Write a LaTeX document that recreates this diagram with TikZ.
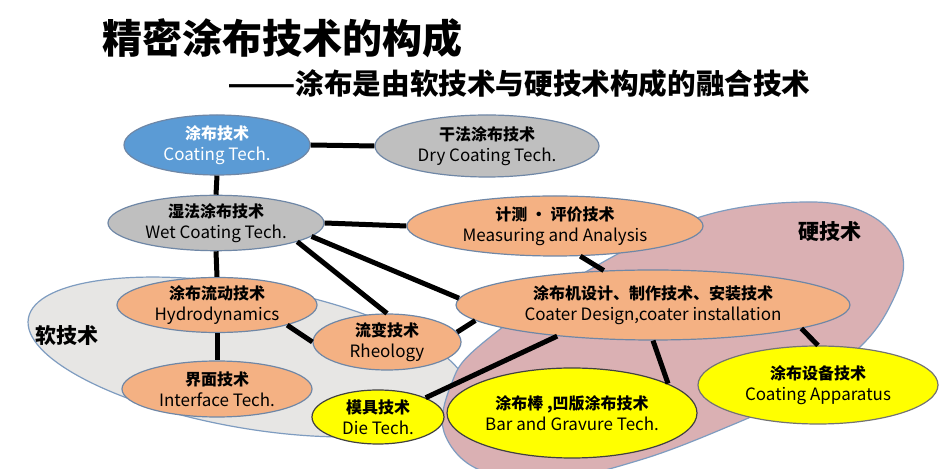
\documentclass[tikz,border=0pt]{standalone}
\usepackage{fontspec}
\setmainfont{Noto Sans CJK SC}
\usetikzlibrary{shapes.geometric}
\definecolor{coatblue}{HTML}{5B9BD5}
\definecolor{techgray}{HTML}{BFBFBF}
\definecolor{techorange}{HTML}{F4B183}
\definecolor{techyellow}{HTML}{FFFF00}
\definecolor{softfill}{HTML}{E7E6E4}
\definecolor{hardfill}{HTML}{DAB0B3}
\definecolor{zoneline}{HTML}{7E9CC0}
\definecolor{techline}{HTML}{6F87A6}
\newcommand{\twoline}[2]{{\bfseries #1}\\{\fontsize{8.5}{10.5}\selectfont #2}}

\begin{document}
\begin{tikzpicture}[x=0.5pt,y=-0.5pt,
        tech/.style={ellipse,draw=techline,line width=0.6pt,inner sep=0pt,align=center,
            font=\fontsize{8}{10.5}\selectfont},
        die/.style={tech,fill=techyellow,draw=black!75},
        link/.style={line width=2.5pt},
        zonelabel/.style={font=\fontsize{10.5}{12}\selectfont\bfseries}]
                \useasboundingbox (0,0) rectangle (942,469);
                \fill[white] (0,0) rectangle (942,469);
                \draw[fill=softfill,draw=zoneline,line width=0.6pt,rotate around={-10:(248,357)}] (248,357) ellipse [x radius=223,y radius=71];
                \draw[fill=hardfill,draw=zoneline,line width=0.6pt] plot[smooth cycle,tension=0.6] coordinates {(444,432) (451,385) (478,347) (577,277) (700,217) (812,202) (875,218) (903,258) (892,302) (860,347) (795,395) (720,430) (640,460) (560,478) (480,470)};
                \node[zonelabel] (softlbl) at (67,336) {软技术};
                \node[zonelabel] (hardlbl) at (830,232) {硬技术};
                \node[anchor=west,font=\fontsize{20}{24}\selectfont\bfseries] (title) at (95,38) {精密涂布技术的构成};
                \node[anchor=west,font=\fontsize{14.3}{17}\selectfont\bfseries] (subtitle) at (220,84) {\scalebox{1.4}[1]{——}涂布是由软技术与硬技术构成的融合技术};
                \node[tech,fill=coatblue,text=white,minimum width=93pt,minimum height=30pt] (coat) at (217,145) {\twoline{涂布技术}{Coating Tech.}};
                \node[tech,fill=techgray,minimum width=112pt,minimum height=31pt] (dry) at (487,146) {\twoline{干法涂布技术}{Dry Coating Tech.}};
                \node[tech,fill=techgray,minimum width=108pt,minimum height=27pt] (wet) at (216,223) {\twoline{湿法涂布技术}{Wet Coating Tech.}};
                \node[tech,fill=techorange,minimum width=148pt,minimum height=30pt] (meas) at (555,226) {\twoline{计测 · 评价技术}{Measuring and Analysis}};
                \node[tech,fill=techorange,minimum width=197pt,minimum height=35pt] (coater) at (653,305) {\twoline{涂布机设计、制作技术、安装技术}{Coater Design,coater installation}};
                \node[tech,fill=techorange,minimum width=100pt,minimum height=27pt] (hydro) at (217,305) {\twoline{涂布流动技术}{Hydrodynamics}};
                \node[tech,fill=techorange,minimum width=74pt,minimum height=28pt] (rheo) at (387,342) {\twoline{流变技术}{Rheology}};
                \node[tech,fill=techorange,minimum width=95pt,minimum height=28pt] (inter) at (217,389) {\twoline{界面技术}{Interface Tech.}};
                \node[die,minimum width=66pt,minimum height=27pt] (dietech) at (378,417) {\twoline{模具技术}{Die Tech.}};
                \node[die,minimum width=125pt,minimum height=45pt] (bar) at (572,413) {\twoline{涂布棒 ,凹版涂布技术}{Bar and Gravure Tech.}};
                \node[die,draw=black!55,minimum width=120pt,minimum height=39pt] (appar) at (818,385) {\twoline{涂布设备技术}{Coating Apparatus}};
                \draw[link] (coat.east)--(dry.west);
                \draw[link] (coat.south)--(wet.north);
                \draw[link] (wet.east)--(meas.west);
                \draw[link] (wet.south)--(hydro.north);
                \draw[link] (hydro.south)--(inter.north);
                \draw[link] (wet.-13)--(rheo.north);
                \draw[link] (wet.-8)--(coater.178);
                \draw[link] (hydro.-16)--(rheo.west);
                \draw[link] (rheo.8)--(coater.185);
                \draw[link] (meas.-50)--(coater.145);
                \draw[link] (coater.-162)--(dietech.22);
                \draw[link] (coater.south)--(bar.17);
                \draw[link] (coater.-9)--(appar.north);
            \end{tikzpicture}
\end{document}
